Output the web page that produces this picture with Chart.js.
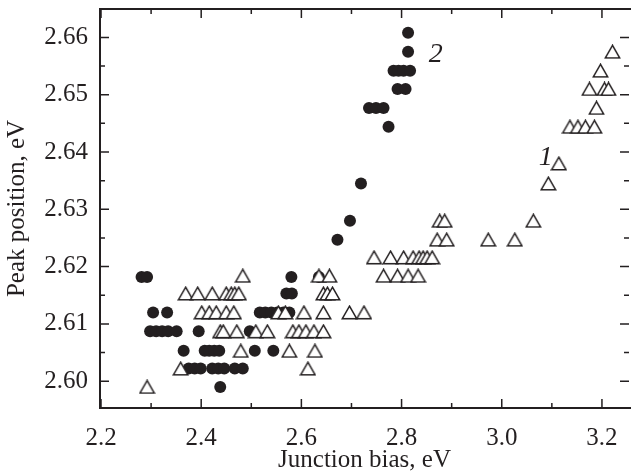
<!DOCTYPE html>
<html lang="en">
<head>
<meta charset="UTF-8">
<title>Peak position vs junction bias</title>
<script src="https://cdn.jsdelivr.net/npm/chart.js"></script>
<style>
  html, body { margin: 0; padding: 0; background: #fff; }
</style>
</head>
<body>
<canvas id="chart" width="637" height="472"></canvas>
<script>
// curve 1: open triangles
const triX = [
  2.292,
  2.359, 2.613,
  2.479, 2.576, 2.627,
  2.438, 2.444, 2.471, 2.509, 2.532, 2.583, 2.595, 2.609, 2.625, 2.644,
  2.401, 2.416, 2.430, 2.450, 2.465, 2.554, 2.568, 2.605, 2.644, 2.696, 2.725,
  2.369, 2.393, 2.422, 2.450, 2.460, 2.467, 2.475, 2.644, 2.652, 2.662,
  2.483, 2.635, 2.656, 2.764, 2.792, 2.813, 2.833,
  2.745, 2.778, 2.804, 2.823, 2.835, 2.843, 2.851, 2.861,
  2.871, 2.890, 2.973, 3.026,
  2.876, 2.886, 3.063,
  3.093,
  3.114,
  3.136, 3.152, 3.167, 3.185,
  3.189,
  3.175, 3.205, 3.213,
  3.197,
  3.221
];
const triY = [
  2.5990,
  2.6022, 2.6022,
  2.6053, 2.6053, 2.6053,
  2.6087, 2.6087, 2.6087, 2.6087, 2.6087, 2.6087, 2.6087, 2.6087, 2.6087, 2.6087,
  2.6120, 2.6120, 2.6120, 2.6120, 2.6120, 2.6120, 2.6120, 2.6120, 2.6120, 2.6120, 2.6120,
  2.6153, 2.6153, 2.6153, 2.6153, 2.6153, 2.6153, 2.6153, 2.6153, 2.6153, 2.6153,
  2.6184, 2.6184, 2.6184, 2.6184, 2.6184, 2.6184, 2.6184,
  2.6216, 2.6216, 2.6216, 2.6216, 2.6216, 2.6216, 2.6216, 2.6216,
  2.6247, 2.6247, 2.6247, 2.6247,
  2.6280, 2.6280, 2.6280,
  2.6345,
  2.6380,
  2.6444, 2.6444, 2.6444, 2.6444,
  2.6477,
  2.6510, 2.6510, 2.6510,
  2.6542,
  2.6575
];

// curve 2: filled circles
const dotX = [
  2.281, 2.292, 2.580, 2.635,
  2.570, 2.581,
  2.304, 2.332, 2.517, 2.528, 2.540, 2.552, 2.564, 2.576,
  2.298, 2.310, 2.322, 2.334, 2.351, 2.395, 2.497,
  2.365, 2.407, 2.416, 2.426, 2.436, 2.507, 2.544,
  2.375, 2.387, 2.399, 2.422, 2.434, 2.446, 2.467, 2.483,
  2.438,
  2.672,
  2.697,
  2.719,
  2.735, 2.749, 2.764,
  2.774,
  2.792, 2.808,
  2.784, 2.794, 2.804, 2.817,
  2.813,
  2.813
];
const dotY = [
  2.6182, 2.6182, 2.6182, 2.6182,
  2.6153, 2.6153,
  2.6120, 2.6120, 2.6120, 2.6120, 2.6120, 2.6120, 2.6120, 2.6120,
  2.6087, 2.6087, 2.6087, 2.6087, 2.6087, 2.6087, 2.6087,
  2.6053, 2.6053, 2.6053, 2.6053, 2.6053, 2.6053, 2.6053,
  2.6022, 2.6022, 2.6022, 2.6022, 2.6022, 2.6022, 2.6022, 2.6022,
  2.5990,
  2.6247,
  2.6280,
  2.6345,
  2.6477, 2.6477, 2.6477,
  2.6444,
  2.6510, 2.6510,
  2.6542, 2.6542, 2.6542, 2.6542,
  2.6575,
  2.6608
];

const xTicks = [2.2, 2.4, 2.6, 2.8, 3.0, 3.2];
const xMinorTicks = [2.3, 2.5, 2.7, 2.9, 3.1];
const yTicks = [2.60, 2.61, 2.62, 2.63, 2.64, 2.65, 2.66];
const yMinorTicks = [2.605, 2.615, 2.625, 2.635, 2.645, 2.655];

// curve numbers written next to the data
const curveLabels = [
  { text: '1', x: 3.088, y: 2.6390 },
  { text: '2', x: 2.868, y: 2.6570 }
];

const ink = '#231f20';
const serif = '"Liberation Serif", "Times New Roman", serif';

// open triangle marker, white inside so overlapping ones hide each other
function makeTriangle() {
  const c = document.createElement('canvas');
  c.width = 17;
  c.height = 15;
  const g = c.getContext('2d');
  g.beginPath();
  g.moveTo(8.5, 1.2);
  g.lineTo(15.8, 13.8);
  g.lineTo(1.2, 13.8);
  g.closePath();
  g.fillStyle = '#fff';
  g.fill();
  g.lineWidth = 1.5;
  g.strokeStyle = ink;
  g.stroke();
  return c;
}

// frame with inward ticks on all four sides
const framePlugin = {
  id: 'frame',
  beforeDatasetsDraw(chart) {
    const { ctx, chartArea: a, scales: { x, y } } = chart;
    ctx.save();
    ctx.strokeStyle = ink;
    ctx.lineWidth = 2;
    ctx.beginPath();
    ctx.moveTo(a.right + 2, a.top);
    ctx.lineTo(a.left, a.top);
    ctx.lineTo(a.left, a.bottom);
    ctx.lineTo(a.right + 2, a.bottom);
    ctx.stroke();

    ctx.lineWidth = 1.5;
    ctx.beginPath();
    const xt = (v, len) => {
      const px = x.getPixelForValue(v);
      ctx.moveTo(px, a.bottom);
      ctx.lineTo(px, a.bottom - len);
      ctx.moveTo(px, a.top);
      ctx.lineTo(px, a.top + len);
    };
    const yt = (v, len) => {
      const py = y.getPixelForValue(v);
      ctx.moveTo(a.left, py);
      ctx.lineTo(a.left + len, py);
      ctx.moveTo(a.right, py);
      ctx.lineTo(a.right - len, py);
    };
    xTicks.forEach(v => xt(v, 9));
    xMinorTicks.forEach(v => xt(v, 5));
    yTicks.forEach(v => yt(v, 9));
    yMinorTicks.forEach(v => yt(v, 5));
    ctx.stroke();
    ctx.restore();
  },
  afterDatasetsDraw(chart) {
    const { ctx, scales: { x, y } } = chart;
    ctx.save();
    ctx.fillStyle = ink;
    ctx.font = 'italic 28px ' + serif;
    ctx.textAlign = 'center';
    ctx.textBaseline = 'middle';
    curveLabels.forEach(l => {
      ctx.fillText(l.text, x.getPixelForValue(l.x), y.getPixelForValue(l.y));
    });
    ctx.restore();
  }
};

const tickFont = { family: serif, size: 25 };
const titleFont = { family: serif, size: 25, lineHeight: 0.95 };

new Chart(document.getElementById('chart'), {
  type: 'scatter',
  data: {
    datasets: [
      {
        label: '1',
        data: triX.map((v, i) => ({ x: v, y: triY[i] })),
        pointStyle: makeTriangle(),
        pointRadius: 7
      },
      {
        label: '2',
        data: dotX.map((v, i) => ({ x: v, y: dotY[i] })),
        pointStyle: 'circle',
        pointRadius: 6,
        pointBorderWidth: 0,
        pointBackgroundColor: ink,
        pointBorderColor: ink
      }
    ]
  },
  options: {
    responsive: false,
    animation: false,
    events: [],
    layout: { padding: { top: 9, right: 0, bottom: 0, left: 0 } },
    plugins: {
      legend: { display: false },
      tooltip: { enabled: false }
    },
    scales: {
      x: {
        type: 'linear',
        min: 2.198,
        max: 3.254,
        afterBuildTicks: s => { s.ticks = xTicks.map(v => ({ value: v })); },
        afterFit: s => { s.height = 64; s.paddingLeft = 0; s.paddingRight = 0; },
        grid: { display: false, drawTicks: false },
        border: { display: false },
        ticks: {
          callback: v => v.toFixed(1),
          font: tickFont,
          color: ink,
          padding: 15,
          maxRotation: 0,
          autoSkip: false
        },
        title: {
          display: true,
          text: 'Junction bias, eV',
          font: titleFont,
          color: ink,
          padding: { top: 0, bottom: 0 }
        }
      },
      y: {
        type: 'linear',
        min: 2.59532,
        max: 2.66496,
        afterBuildTicks: s => { s.ticks = yTicks.map(v => ({ value: v })); },
        afterFit: s => { s.width = 100; s.paddingTop = 0; s.paddingBottom = 0; },
        grid: { display: false, drawTicks: false },
        border: { display: false },
        ticks: {
          callback: v => v.toFixed(2),
          font: tickFont,
          color: ink,
          padding: 12,
          autoSkip: false
        },
        title: {
          display: true,
          text: 'Peak position, eV',
          font: titleFont,
          color: ink,
          padding: { top: 6, bottom: 0 }
        }
      }
    }
  },
  plugins: [framePlugin]
});
</script>
</body>
</html>
